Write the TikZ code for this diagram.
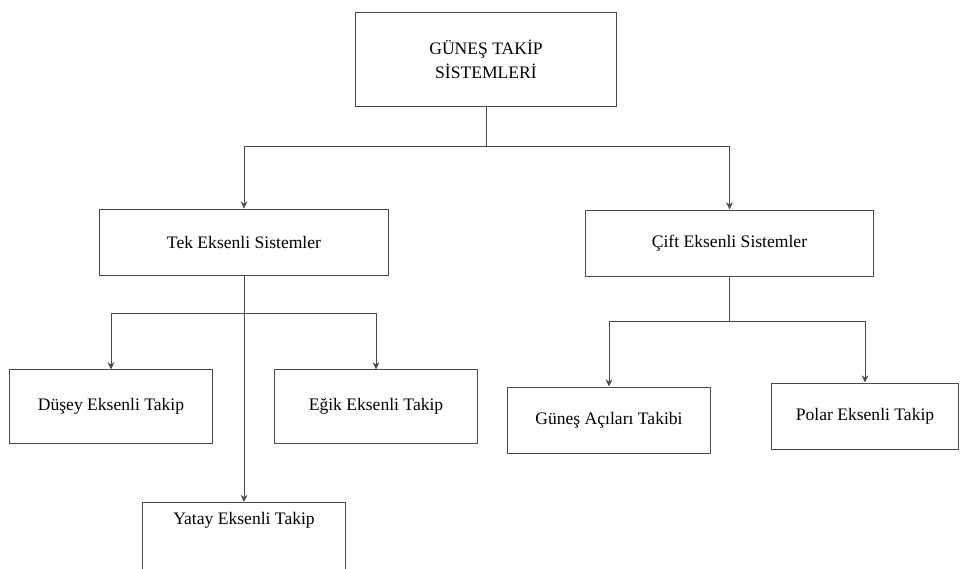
\documentclass[tikz,border=0pt]{standalone}
\usepackage{fontspec}
\setmainfont{Liberation Serif}
\usepackage{tikz}
\usetikzlibrary{positioning, arrows.meta, calc}
\definecolor{edge}{HTML}{4A4A4A}

\begin{document}
\begin{tikzpicture}[x=0.025cm, y=-0.025cm,
        every node/.style={font=\fontsize{12.5}{17}\selectfont},
        box/.style={rectangle, draw=edge, line width=0.7pt, align=center,
          inner sep=0pt},
        arr/.style={-{Stealth[length=1.8mm, width=1.7mm]}, draw=edge, line width=0.7pt},
        ln/.style={draw=edge, line width=0.7pt}]

      \useasboundingbox (0,0) rectangle (963,568);

      \node[box, minimum width=6.5cm, minimum height=2.33cm] (T) at (486,59.5)
        {GÜNEŞ TAKİP\\SİSTEMLERİ};

      \node[box, minimum width=7.2cm, minimum height=1.67cm] (TE) at (244,242.5)
        {Tek Eksenli Sistemler};
      \node[box, minimum width=7.18cm, minimum height=1.65cm] (CE) at (729.5,243)
        {Çift Eksenli Sistemler};

      \node[box, minimum width=5.05cm, minimum height=1.83cm] (DE) at (111,406.5)
        {Düşey Eksenli Takip};
      \node[box, minimum width=5.05cm, minimum height=1.83cm] (EE) at (376,406.5)
        {Eğik Eksenli Takip};
      \node[box, anchor=north, minimum width=5.08cm, text height=9pt,
        text depth=50pt, inner ysep=7pt] (YE) at (244,502)
        {Yatay Eksenli Takip};

      \node[box, minimum width=5.05cm, minimum height=1.65cm] (GA) at (609,420)
        {Güneş Açıları Takibi};
      \node[box, minimum width=4.65cm, minimum height=1.65cm] (PE) at (865,416)
        {Polar Eksenli Takip};

      \coordinate (J1) at ($(T.south)+(0,40)$);
      \coordinate (J2) at ($(TE.south)+(0,37)$);
      \coordinate (J3) at ($(CE.south)+(0,45)$);

      \draw[ln] (T.south) -- (J1);
      \draw[arr] (J1) -| (TE.north);
      \draw[arr] (J1) -| (CE.north);

      \draw[arr] (TE.south) -- (YE.north);
      \draw[arr] (J2) -| (DE.north);
      \draw[arr] (J2) -| (EE.north);

      \draw[ln] (CE.south) -- (J3);
      \draw[arr] (J3) -| (GA.north);
      \draw[arr] (J3) -| (PE.north);
    \end{tikzpicture}
\end{document}
